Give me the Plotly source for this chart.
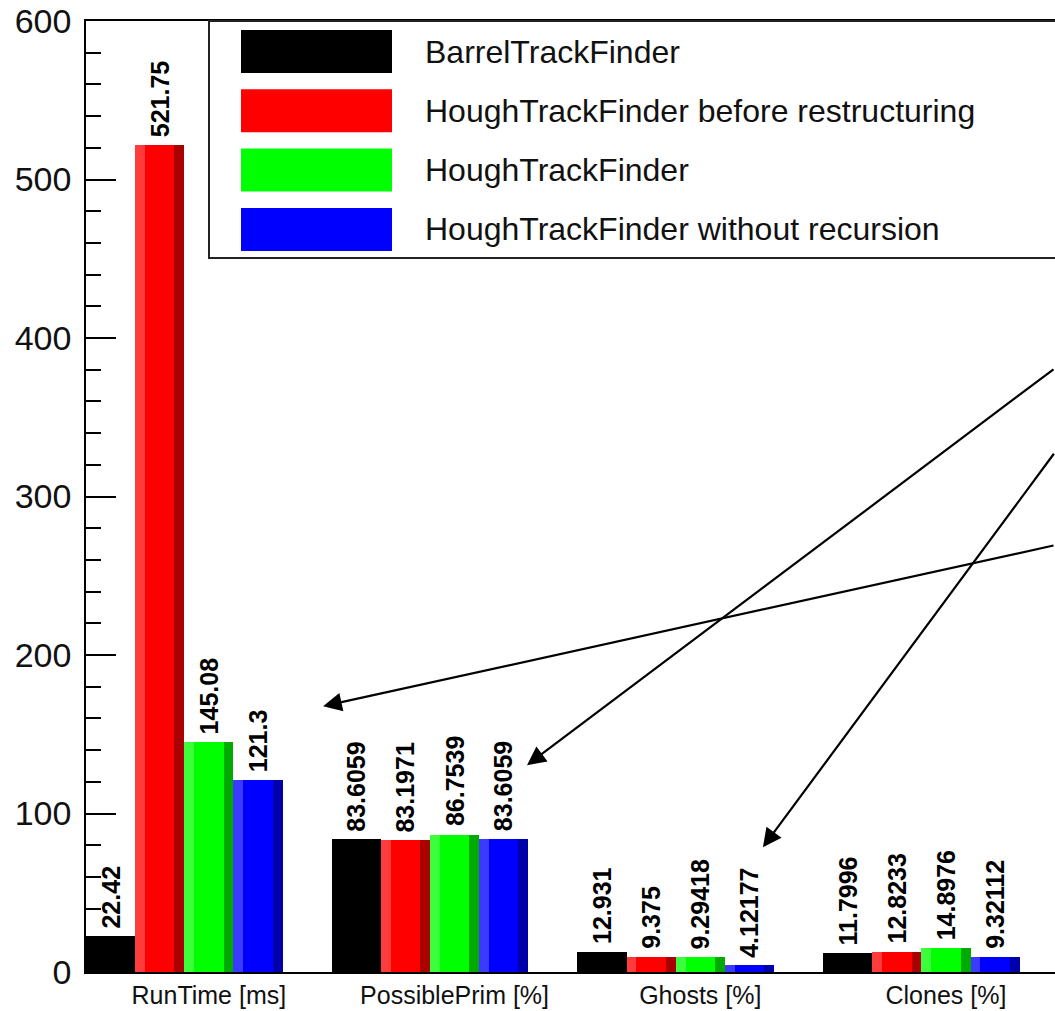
import plotly.graph_objects as go

# ---- data -------------------------------------------------------------
categories = ["RunTime [ms]", "PossiblePrim [%]", "Ghosts [%]", "Clones [%]"]
series_names = [
    "BarrelTrackFinder",
    "HoughTrackFinder before restructuring",
    "HoughTrackFinder",
    "HoughTrackFinder without recursion",
]
barrel = [22.42, 83.6059, 12.931, 11.7996]
hough_before = [521.75, 83.1971, 9.375, 12.8233]
hough = [145.08, 86.7539, 9.29418, 14.8976]
hough_norec = [121.3, 83.6059, 4.12177, 9.32112]
series_values = [barrel, hough_before, hough, hough_norec]

# ---- style ------------------------------------------------------------
main_colors = ["#000000", "#ff0000", "#00ff00", "#0000ff"]
light_colors = ["#000000", "#ff3b3b", "#3bff3b", "#3b3bff"]
dark_colors = ["#000000", "#aa0000", "#00aa00", "#0000aa"]

BAR_W = 0.2          # width of one bar in bin units
STRIP = 0.2          # fraction of a bar used for the highlight / shadow strips
FONT = "Liberation Sans, Arial, sans-serif"

W, H = 1055, 1011
ML, MR, MT, MB = 86, 0, 21, 39
X_MAX = (W - ML) / 245.7   # visible part of the binned x axis
Y_MAX = 600

fig = go.Figure()

n_cat = len(categories)
for i, (name, vals) in enumerate(zip(series_names, series_values)):
    left = [k + BAR_W * i for k in range(n_cat)]
    centers = [l + BAR_W / 2 for l in left]
    fig.add_trace(go.Bar(
        x=centers, y=vals, width=BAR_W, name=name,
        marker=dict(color=main_colors[i], line=dict(width=0)),
        showlegend=False, hoverinfo="name+y",
    ))
    if i > 0:
        sw = BAR_W * STRIP
        fig.add_trace(go.Bar(
            x=[l + sw / 2 for l in left], y=vals, width=sw,
            marker=dict(color=light_colors[i], line=dict(width=0)),
            showlegend=False, hoverinfo="skip",
        ))
        fig.add_trace(go.Bar(
            x=[l + BAR_W - sw / 2 for l in left], y=vals, width=sw,
            marker=dict(color=dark_colors[i], line=dict(width=0)),
            showlegend=False, hoverinfo="skip",
        ))
    # value labels above each bar
    for c, v in zip(centers, vals):
        fig.add_annotation(
            x=c, y=v, text=f"{v:g}", showarrow=False, textangle=-90,
            xanchor="center", yanchor="bottom", yshift=6,
            font=dict(family=FONT, size=25, color="black", weight="bold"),
        )

# ---- legend box drawn by hand (wide swatches, ROOT style) -------------
pw = W - ML - MR
ph = H - MT - MB


def px_x(p):
    return (p - ML) / pw


def px_y(p):
    return (H - MB - p) / ph


fig.add_shape(type="rect", xref="paper", yref="paper",
              x0=px_x(209), x1=px_x(1200), y0=px_y(258), y1=px_y(21),
              line=dict(color="#222222", width=2), fillcolor="white", layer="above")
for i, name in enumerate(series_names):
    top = 30 + 59.3 * i
    fig.add_shape(type="rect", xref="paper", yref="paper",
                  x0=px_x(241), x1=px_x(392), y0=px_y(top + 43), y1=px_y(top),
                  line=dict(width=0), fillcolor=main_colors[i], layer="above")
    fig.add_annotation(xref="paper", yref="paper", x=px_x(423), y=px_y(top + 21.5),
                       text=name, showarrow=False, xanchor="left", yanchor="middle",
                       font=dict(family=FONT, size=32, color="#111111"))

# ---- arrows pointing at the groups ------------------------------------
arrows = [
    # head (x in bins, y in axis units), tail offset in pixels
    (0.965, 167.7, 752, -161),
    (1.795, 130.5, 548, -397),
    (2.755, 78.7, 312, -395),
]
for hx, hy, ax, ay in arrows:
    fig.add_annotation(x=hx, y=hy, ax=ax, ay=ay, axref="pixel", ayref="pixel",
                       text="", showarrow=True, arrowhead=2, arrowsize=1.7,
                       arrowwidth=2.2, arrowcolor="black", standoff=0)

fig.update_layout(
    width=W, height=H,
    margin=dict(l=ML, r=MR, t=MT, b=MB, pad=0),
    paper_bgcolor="white", plot_bgcolor="white",
    barmode="overlay", bargap=0,
    font=dict(family=FONT, color="black"),
    xaxis=dict(
        range=[0, X_MAX], tickvals=[k + 0.5 for k in range(n_cat)], ticktext=categories,
        ticks="", showgrid=False, zeroline=False,
        showline=True, linecolor="black", linewidth=1.5, mirror=True,
        tickfont=dict(family=FONT, size=25, color="#111111"),
    ),
    yaxis=dict(
        range=[0, Y_MAX], dtick=100, ticks="inside", ticklen=30, tickwidth=1.5,
        tickcolor="black", showgrid=False, zeroline=False,
        showline=True, linecolor="black", linewidth=1.5, mirror=False,
        minor=dict(dtick=20, ticks="inside", ticklen=15, tickwidth=1.5, tickcolor="black",
                   showgrid=False),
        ticklabelstandoff=6,
        tickfont=dict(family=FONT, size=34, color="#111111"),
    ),
)

fig.write_html("out.html")
